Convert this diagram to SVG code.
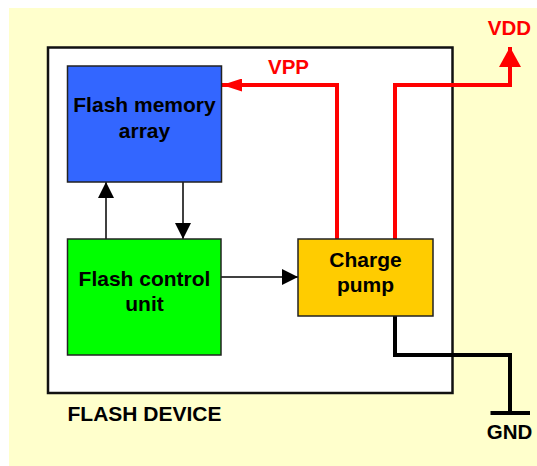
<svg xmlns="http://www.w3.org/2000/svg" width="537" height="466" viewBox="0 0 537 466">
<style>
text{font-family:"Liberation Sans",Arial,sans-serif;font-weight:bold;text-anchor:middle}
.box{stroke:#222;stroke-width:1.5}
.lbl{font-size:21px;fill:#000}
.red{fill:#FF0000;font-size:20.5px}
.blk{stroke:#000;stroke-width:1.5;fill:none}
.rl{stroke:#FF0000;stroke-width:4;fill:none}
.gl{stroke:#000;stroke-width:4;fill:none}
</style>
<defs>
<marker id="ab" markerWidth="16" markerHeight="16" refX="16" refY="8" orient="auto" markerUnits="userSpaceOnUse"><path d="M0,0L16,8L0,16Z" fill="#000"/></marker>
<marker id="ar" markerWidth="20" markerHeight="22" refX="20" refY="11" orient="auto" markerUnits="userSpaceOnUse"><path d="M0,0L20,11L0,22Z" fill="#FF0000"/></marker>
<marker id="ar2" markerWidth="20" markerHeight="13" refX="20" refY="6.5" orient="auto" markerUnits="userSpaceOnUse"><path d="M0,0L20,6.5L0,13Z" fill="#FF0000"/></marker>
</defs>
<rect x="0" y="0" width="537" height="466" fill="#FFFFFF"/>
<rect x="9" y="8" width="528" height="458" fill="#FFFFCC"/>
<g id="device">
<rect x="48" y="47.5" width="404.5" height="345.5" fill="#FFFFFF" stroke="#111" stroke-width="2.5"/>
<text x="67.5" y="421" style="text-anchor:start" class="lbl">FLASH DEVICE</text>
</g>
<g id="connectors">
<line class="blk" x1="106" y1="239" x2="106" y2="182" marker-end="url(#ab)"/>
<line class="blk" x1="183" y1="182" x2="183" y2="239" marker-end="url(#ab)"/>
<line class="blk" x1="221" y1="277" x2="298" y2="277" marker-end="url(#ab)"/>
<polyline class="rl" points="337,239 337,85 222,85" marker-end="url(#ar2)"/>
<polyline class="rl" points="395,239 395,85 510,85 510,47" marker-end="url(#ar)"/>
<polyline class="gl" points="395,316 395,355 510,355 510,413"/>
<line class="gl" x1="490.5" y1="413" x2="530" y2="413" stroke-width="4.5"/>
</g>
<g id="memory">
<rect class="box" x="67.5" y="66" width="154" height="116" fill="#3366FF"/>
<text class="lbl" x="144.5" y="112">Flash memory</text>
<text class="lbl" x="144.5" y="138">array</text>
</g>
<g id="control">
<rect class="box" x="67.5" y="239" width="153.5" height="116" fill="#00FF00"/>
<text class="lbl" x="144.5" y="286">Flash control</text>
<text class="lbl" x="144.5" y="311">unit</text>
</g>
<g id="pump">
<rect class="box" x="298" y="239" width="135" height="77" fill="#FFCC00"/>
<text class="lbl" x="365.5" y="267">Charge</text>
<text class="lbl" x="365.5" y="292">pump</text>
</g>
<g id="labels">
<text class="red" x="288.5" y="74">VPP</text>
<text class="red" x="509.5" y="35">VDD</text>
<text class="lbl" x="509.5" y="439" style="font-size:20.5px">GND</text>
</g>
</svg>
